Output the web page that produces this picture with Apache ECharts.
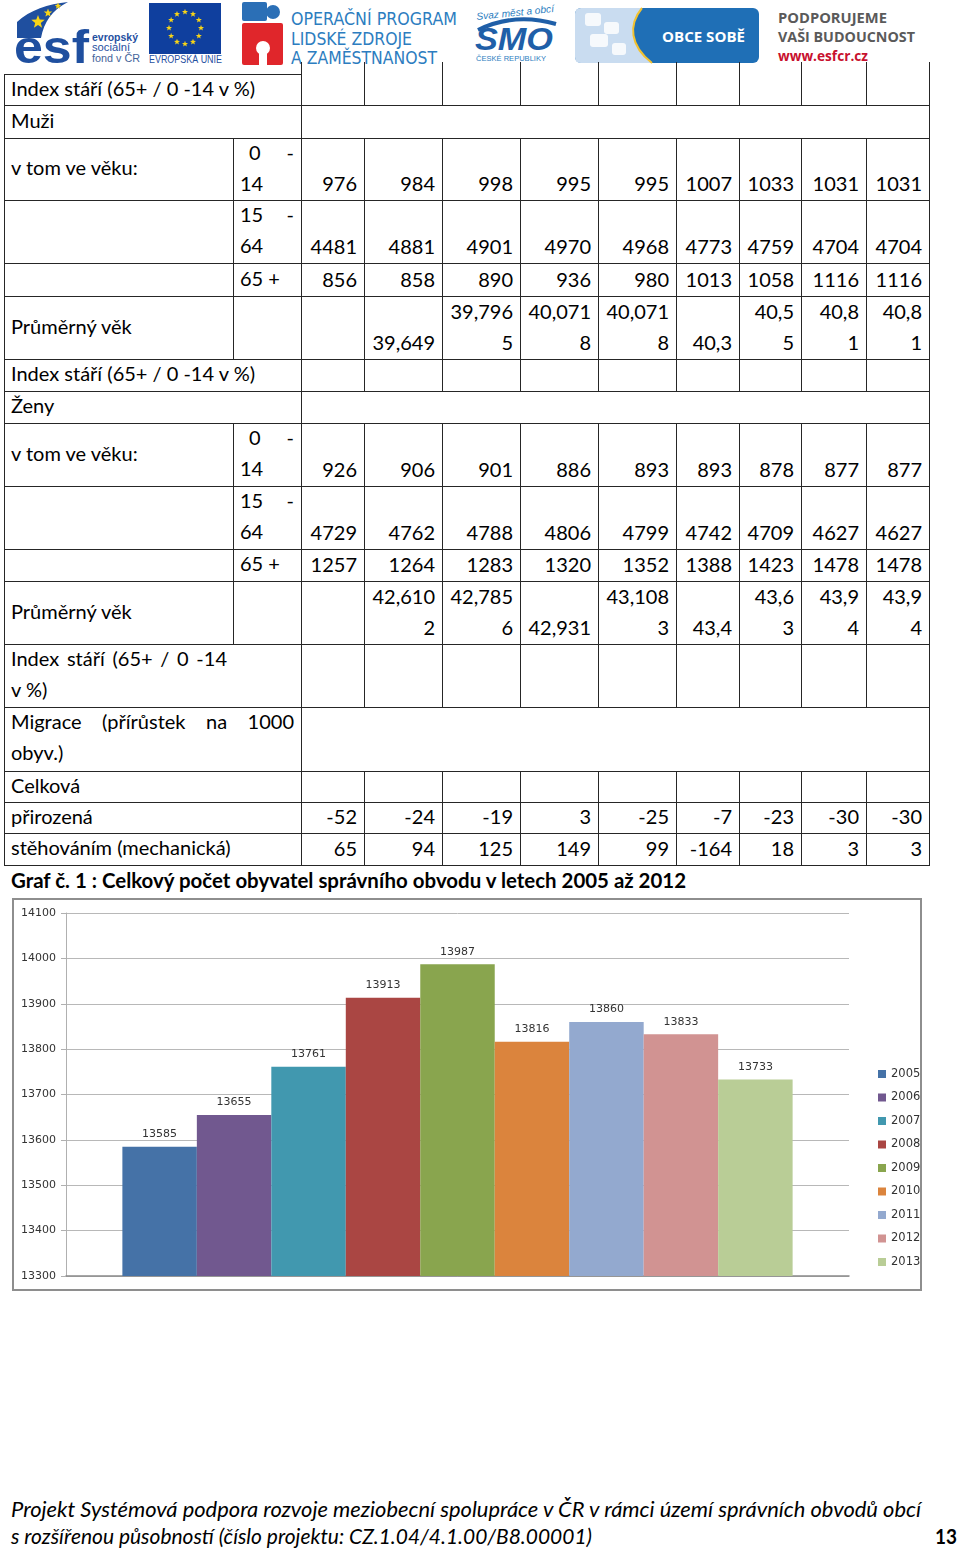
<!DOCTYPE html>
<html lang="cs">
<head>
<meta charset="utf-8">
<title>Celkový počet obyvatel správního obvodu</title>
<script src="https://cdn.jsdelivr.net/npm/echarts@6/dist/echarts.min.js"></script>
<style>
  html, body { margin: 0; padding: 0; background: #fff; }
  #page { position: relative; width: 960px; height: 1550px; overflow: hidden; font-family: Lato, "Noto Sans", sans-serif; color: #000; }
  #hlava, #pata, #popis { position: absolute; left: 0; }
  .cell { position: absolute; box-sizing: border-box; border: 1px solid #262626; font-size: 20px; line-height: 31px; white-space: nowrap; }
  .lab { padding-left: 6px; padding-right: 7px; display: flex; flex-direction: column; justify-content: center; }
  .lab > div { position: relative; top: -2px; }
  .labtop { justify-content: flex-start; }
  .val { padding-right: 7px; display: flex; flex-direction: column; justify-content: flex-end; align-items: flex-end; text-align: right; }
  .val > div { position: relative; top: -1px; }
  .notop { border-top: none; }
  .ln { display: flex; justify-content: space-between; }
  .jus { text-align: justify; text-align-last: justify; }
  #graf { position: absolute; left: 12px; top: 898px; width: 906px; height: 389px; border: 2px solid #8e8e8e; }
</style>
</head>
<body>
<div id="page">
  <svg id="hlava" width="960" height="72" style="top:0"></svg>
  <svg id="popis" width="960" height="30" style="top:866px">
    <text x="11" y="888" transform="translate(0,-866)" font-family="Lato, sans-serif" font-weight="bold" font-size="20" textLength="675" lengthAdjust="spacingAndGlyphs">Graf č. 1 : Celkový počet obyvatel správního obvodu v letech 2005 až 2012</text>
  </svg>
  <div id="graf"></div>
  <svg id="pata" width="960" height="60" style="top:1490px">
    <g transform="translate(0,-1490)" font-family="Lato, sans-serif" font-size="21">
      <text x="11" y="1517" font-style="italic" textLength="910" lengthAdjust="spacingAndGlyphs">Projekt Systémová podpora rozvoje meziobecní spolupráce v ČR v rámci území správních obvodů obcí</text>
      <text x="11" y="1544" font-style="italic" textLength="581" lengthAdjust="spacingAndGlyphs">s rozšířenou působností (číslo projektu: CZ.1.04/4.1.00/B8.00001)</text>
      <text x="935" y="1544" font-weight="bold" textLength="22" lengthAdjust="spacingAndGlyphs">13</text>
    </g>
  </svg>
</div>
<script>
// graf: pocet obyvatel 2005 - 2013
var roky = ["2005", "2006", "2007", "2008", "2009", "2010", "2011", "2012", "2013"];
var obyvatel = [13585, 13655, 13761, 13913, 13987, 13816, 13860, 13833, 13733];
var osaY = [13300, 13400, 13500, 13600, 13700, 13800, 13900, 14000, 14100];
var barvy = ["#4572A7", "#71588F", "#4198AF", "#AA4643", "#89A54E", "#DB843D", "#93A9CF", "#D19392", "#B9CD96"];

// tabulka
var vekSkupiny = ["0 - 14", "15 - 64", "65 +"];
var muzi014 = [976, 984, 998, 995, 995, 1007, 1033, 1031, 1031];
var muzi1564 = [4481, 4881, 4901, 4970, 4968, 4773, 4759, 4704, 4704];
var muzi65 = [856, 858, 890, 936, 980, 1013, 1058, 1116, 1116];
var muziVek = ["", "39,649", "39,796\n5", "40,071\n8", "40,071\n8", "40,3", "40,5\n5", "40,8\n1", "40,8\n1"];
var zeny014 = [926, 906, 901, 886, 893, 893, 878, 877, 877];
var zeny1564 = [4729, 4762, 4788, 4806, 4799, 4742, 4709, 4627, 4627];
var zeny65 = [1257, 1264, 1283, 1320, 1352, 1388, 1423, 1478, 1478];
var zenyVek = ["", "42,610\n2", "42,785\n6", "42,931", "43,108\n3", "43,4", "43,6\n3", "43,9\n4", "43,9\n4"];
var prirozena = [-52, -24, -19, 3, -25, -7, -23, -30, -30];
var stehovanim = [65, 94, 125, 149, 99, -164, 18, 3, 3];

var colX = [4, 233, 301, 364, 442, 520, 598, 676, 739, 801, 866, 929];
var rowY = [74, 105, 138, 200, 263, 296, 359, 391, 423, 486, 549, 581, 644, 707, 771, 802, 833, 865];

var page = document.getElementById('page');

function bunka(c0, c1, r, html, cls, y0) {
    var d = document.createElement('div');
    var top = (y0 != null) ? y0 : rowY[r];
    d.className = 'cell ' + (cls || '');
    d.style.left = colX[c0] + 'px';
    d.style.top = top + 'px';
    d.style.width = (colX[c1] - colX[c0] + 1) + 'px';
    d.style.height = (rowY[r + 1] - top + 1) + 'px';
    d.innerHTML = html;
    page.appendChild(d);
    return d;
}

function hodnoty(r, vals, cls, y0) {
    for (var j = 0; j < 9; j++) {
        var v = (vals && vals[j] !== undefined) ? String(vals[j]) : "";
        bunka(j + 2, j + 3, r, v.split("\n").map(function (t) { return '<div>' + t + '</div>'; }).join(''), 'val ' + (cls || ''), y0);
    }
}

function vekBunka(r, text) {
    var p = text.split(" - ");
    var html;
    if (p.length == 2) {
        var odsazeni = p[0].length == 1 ? ' style="padding-left:9px"' : '';
        html = '<div class="ln"' + odsazeni + '><span>' + p[0] + '</span><span>-</span></div><div>' + p[1] + '</div>';
    } else {
        html = '<div>' + text + '</div>';
    }
    bunka(1, 2, r, html, 'lab');
}

function blok(r, pohlavi, v014, v1564, v65, vek) {
    bunka(0, 2, r, '<div>Index stáří (65+ / 0 -14 v %)</div>', 'lab');
    hodnoty(r, null, r == 0 ? 'notop' : '', r == 0 ? 62 : null);
    bunka(0, 2, r + 1, '<div>' + pohlavi + '</div>', 'lab');
    bunka(2, 11, r + 1, '', '');
    var radky = [v014, v1564, v65];
    for (var k = 0; k < 3; k++) {
        bunka(0, 1, r + 2 + k, k == 0 ? '<div>v tom ve věku:</div>' : '', 'lab');
        vekBunka(r + 2 + k, vekSkupiny[k]);
        hodnoty(r + 2 + k, radky[k]);
    }
    bunka(0, 1, r + 5, '<div>Průměrný věk</div>', 'lab');
    bunka(1, 2, r + 5, '', '');
    hodnoty(r + 5, vek);
}

blok(0, 'Muži', muzi014, muzi1564, muzi65, muziVek);
blok(6, 'Ženy', zeny014, zeny1564, zeny65, zenyVek);
bunka(0, 2, 12, '<div class="jus" style="width:216px">Index stáří (65+ / 0 -14</div><div>v %)</div>', 'lab labtop');
hodnoty(12, null);
bunka(0, 2, 13, '<div class="jus">Migrace (přírůstek na 1000</div><div>obyv.)</div>', 'lab labtop');
bunka(2, 11, 13, '', '');
bunka(0, 2, 14, '<div>Celková</div>', 'lab');
hodnoty(14, null);
bunka(0, 2, 15, '<div>přirozená</div>', 'lab');
hodnoty(15, prirozena);
bunka(0, 2, 16, '<div>stěhováním (mechanická)</div>', 'lab');
hodnoty(16, stehovanim);

// hlavicka s logy
function hvezda(cx, cy, r, barva) {
    var pts = [];
    for (var k = 0; k < 10; k++) {
        var rr = k % 2 ? r * 0.42 : r;
        var a = -Math.PI / 2 + k * Math.PI / 5;
        pts.push((cx + rr * Math.cos(a)).toFixed(1) + ',' + (cy + rr * Math.sin(a)).toFixed(1));
    }
    return '<polygon points="' + pts.join(' ') + '" fill="' + barva + '"/>';
}
var s = '';
// esf
s += '<path d="M17,38 L17,22 C30,10 48,4 68,2 C52,10 44,22 41,38 Z" fill="#1f4f9f"/>';
s += hvezda(38, 22, 7, '#f7d417') + hvezda(48, 13, 4.5, '#f7d417') + hvezda(58, 6, 3.5, '#f7d417');
s += '<text x="14" y="63" font-family="Liberation Sans, sans-serif" font-weight="bold" font-size="46" fill="#1f4f9f" textLength="75" lengthAdjust="spacingAndGlyphs">esf</text>';
s += '<g font-family="Liberation Sans, sans-serif" font-size="11" fill="#1f4f9f">';
s += '<text x="92" y="41" font-weight="bold" textLength="46" lengthAdjust="spacingAndGlyphs">evropský</text>';
s += '<text x="92" y="51" textLength="38" lengthAdjust="spacingAndGlyphs">sociální</text>';
s += '<text x="92" y="62" fill="#44639a" textLength="48" lengthAdjust="spacingAndGlyphs">fond v ČR</text>';
s += '<text x="149" y="63" font-size="10" textLength="73" lengthAdjust="spacingAndGlyphs">EVROPSKÁ UNIE</text>';
s += '</g>';
// EU vlajka
s += '<rect x="149" y="3" width="72" height="51" fill="#0f3f9e"/>';
for (var i = 0; i < 12; i++) {
    var a = i * Math.PI / 6;
    s += hvezda(185 + 16 * Math.cos(a), 28 + 16 * Math.sin(a), 3.2, '#f7d417');
}
// OP LZZ puzzle
s += '<rect x="242" y="2" width="25" height="19" rx="2" fill="#2b6fb6"/><circle cx="273" cy="12" r="7" fill="#2b6fb6"/>';
s += '<rect x="242" y="23" width="41" height="42" rx="2" fill="#e0262b"/>';
s += '<circle cx="263" cy="48" r="7" fill="#fff"/><rect x="259" y="50" width="8" height="15" fill="#fff"/>';
s += '<g font-family="DejaVu Sans, sans-serif" font-size="18" fill="#2c7dc0">';
s += '<text x="291" y="25" textLength="166" lengthAdjust="spacingAndGlyphs">OPERAČNÍ PROGRAM</text>';
s += '<text x="291" y="45" textLength="121" lengthAdjust="spacingAndGlyphs">LIDSKÉ ZDROJE</text>';
s += '<text x="291" y="64" textLength="146" lengthAdjust="spacingAndGlyphs">A ZAMĚSTNANOST</text>';
s += '</g>';
// SMO
s += '<text x="476" y="16" transform="rotate(-6 515 12)" font-family="Liberation Sans, sans-serif" font-style="italic" font-size="10" fill="#2c7dc0" textLength="78" lengthAdjust="spacingAndGlyphs">Svaz měst a obcí</text>';
s += '<path d="M478,30 Q515,12 556,24" stroke="#1f5fa8" stroke-width="4" fill="none"/>';
s += '<text x="475" y="50" font-family="Liberation Sans, sans-serif" font-style="italic" font-weight="bold" font-size="32" fill="#1f5fa8" textLength="78" lengthAdjust="spacingAndGlyphs">SMO</text>';
s += '<text x="476" y="61" font-family="Liberation Sans, sans-serif" font-size="7" fill="#2c7dc0" textLength="70" lengthAdjust="spacingAndGlyphs">ČESKÉ REPUBLIKY</text>';
// OBCE SOBE
s += '<rect x="575" y="8" width="184" height="55" rx="6" fill="#1f6fb6"/>';
s += '<path d="M581,8 H642 C628,25 630,46 652,63 H581 Q575,63 575,57 V14 Q575,8 581,8 Z" fill="#c9dcf0"/>';
s += '<path d="M642,8 C628,25 630,46 652,63" stroke="#f2c230" stroke-width="2" fill="none"/>';
s += '<g fill="#fff" opacity="0.85"><rect x="585" y="13" width="16" height="13" rx="3"/><rect x="604" y="22" width="15" height="12" rx="3"/><rect x="590" y="34" width="18" height="13" rx="3"/><rect x="612" y="43" width="14" height="12" rx="3"/></g>';
s += '<text x="662" y="42" font-family="Open Sans, sans-serif" font-weight="bold" font-size="15" fill="#fff" textLength="83" lengthAdjust="spacingAndGlyphs">OBCE SOBĚ</text>';
// podporujeme
s += '<g font-family="Open Sans, sans-serif" font-weight="bold" font-size="15" fill="#5a5a5a">';
s += '<text x="778" y="23" textLength="109" lengthAdjust="spacingAndGlyphs">PODPORUJEME</text>';
s += '<text x="778" y="42" textLength="137" lengthAdjust="spacingAndGlyphs">VAŠI BUDOUCNOST</text>';
s += '<text x="778" y="61" font-size="14" fill="#c8102e" textLength="90" lengthAdjust="spacingAndGlyphs">www.esfcr.cz</text>';
s += '</g>';
document.getElementById('hlava').innerHTML = s;

// graf
var dom = document.getElementById("graf");
var myChart = echarts.init(dom);
var series = [];
for (var i = 0; i < roky.length; i++) {
    series.push({
        name: roky[i],
        type: 'bar',
        data: [obyvatel[i]],
        barGap: '0%',
        barCategoryGap: '14.4%',
        itemStyle: { color: barvy[i] },
        label: {
            show: true,
            position: 'top',
            distance: 7,
            color: '#333',
            fontSize: 11,
            fontFamily: 'DejaVu Sans'
        }
    });
}
var option = {
    animation: false,
    textStyle: { fontFamily: 'DejaVu Sans' },
    grid: { left: 52, top: 13, width: 783, height: 363 },
    legend: {
        orient: 'vertical',
        left: 864,
        top: 168,
        padding: 0,
        icon: 'rect',
        itemWidth: 8,
        itemHeight: 8,
        itemGap: 11.5,
        textStyle: { fontSize: 11.5, color: '#333' },
        data: roky
    },
    xAxis: {
        type: 'category',
        data: ['Počet obyvatel'],
        axisLabel: { show: false },
        axisTick: { show: false },
        axisLine: { lineStyle: { color: '#8a8a8a', width: 1.5 } }
    },
    yAxis: {
        type: 'value',
        min: osaY[0],
        max: osaY[osaY.length - 1],
        interval: osaY[1] - osaY[0],
        axisLine: { show: true, lineStyle: { color: '#b0b0b0' } },
        axisTick: { show: true, length: 5, lineStyle: { color: '#b0b0b0' } },
        splitLine: { lineStyle: { color: '#b8b8b8' } },
        axisLabel: { color: '#333', fontSize: 11, margin: 10, formatter: function (v) { return String(v); } }
    },
    series: series
};
myChart.setOption(option, true);
</script>
</body>
</html>
